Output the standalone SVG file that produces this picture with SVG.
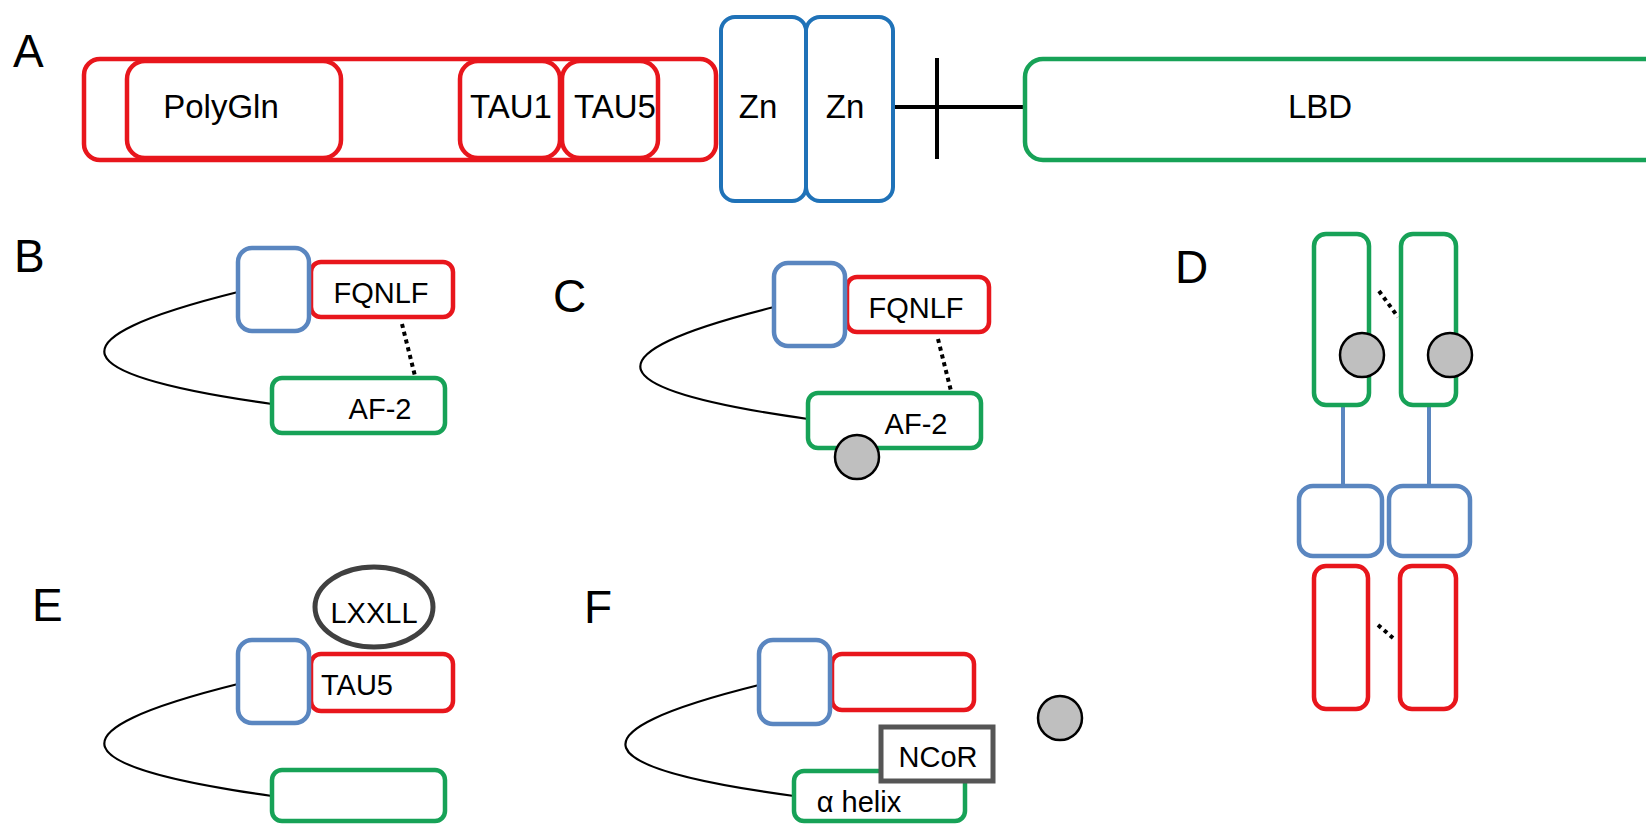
<svg xmlns="http://www.w3.org/2000/svg" width="1646" height="824" viewBox="0 0 1646 824">
  <style>
    .lbl { font-family: "Liberation Sans", Arial, sans-serif; font-size: 46px; fill: #000; }
    .t32 { font-family: "Liberation Sans", Arial, sans-serif; font-size: 33px; fill: #000; text-anchor: middle; }
    .t29 { font-family: "Liberation Sans", Arial, sans-serif; font-size: 29px; fill: #000; text-anchor: middle; }
    .red { fill: #fff; stroke: #e8161c; stroke-width: 4.5; }
    .zn { fill: #fff; stroke: #1f72b8; stroke-width: 4; }
    .blue { fill: #fff; stroke: #5a86c0; stroke-width: 4.5; }
    .green { fill: #fff; stroke: #17a257; stroke-width: 4.5; }
    .ligand { fill: #bfbfbf; stroke: #000; stroke-width: 2.5; }
    .loop { fill: none; stroke: #000; stroke-width: 2.2; }
    .dots { fill: none; stroke: #000; stroke-width: 4; stroke-dasharray: 4 4; }
    .hinge { fill: none; stroke: #5a86c0; stroke-width: 4; }
    .bar { fill: none; stroke: #000; stroke-width: 4; }
  </style>

  <!-- panel letters -->
  <g id="panel-labels">
    <text class="lbl" x="13" y="67">A</text>
    <text class="lbl" x="14" y="272">B</text>
    <text class="lbl" x="553" y="312">C</text>
    <text class="lbl" x="1175" y="283">D</text>
    <text class="lbl" x="32" y="621">E</text>
    <text class="lbl" x="584" y="623">F</text>
  </g>

  <!-- connectors -->
  <g id="connectors">
    <!-- A: hinge line with tick -->
    <line class="bar" x1="893" y1="107" x2="1025" y2="107"/>
    <line class="bar" x1="937" y1="58" x2="937" y2="159"/>
    <!-- B -->
    <path class="loop" d="M238,292 C45,340 65,375 272,404"/>
    <line class="dots" x1="402" y1="324" x2="415" y2="376"/>
    <!-- C -->
    <path class="loop" d="M774,307 C581,355 601,390 808,419"/>
    <line class="dots" x1="938" y1="339" x2="951" y2="391"/>
    <!-- D -->
    <line class="hinge" x1="1343" y1="405" x2="1343" y2="486"/>
    <line class="hinge" x1="1429" y1="405" x2="1429" y2="486"/>
    <line class="dots" x1="1379" y1="291" x2="1398" y2="317"/>
    <line class="dots" x1="1378" y1="625" x2="1393" y2="638"/>
    <!-- E -->
    <path class="loop" d="M238,684 C45,732 65,767 272,796"/>
    <!-- F -->
    <path class="loop" d="M759,685 C566,733 586,768 794,796"/>
  </g>

  <!-- A: full-length receptor -->
  <g id="a-ntd">
    <rect class="red" x="84" y="59" width="632" height="101" rx="16"/>
  </g>
  <g id="a-polygln">
    <rect class="red" x="127" y="61" width="214" height="97" rx="18"/>
    <text class="t32" x="221" y="118">PolyGln</text>
  </g>
  <g id="a-tau1">
    <rect class="red" x="460" y="61" width="100" height="97" rx="18"/>
    <text class="t32" x="511" y="118">TAU1</text>
  </g>
  <g id="a-tau5">
    <rect class="red" x="562" y="61" width="96" height="97" rx="18"/>
    <text class="t32" x="615" y="118">TAU5</text>
  </g>
  <g id="a-zn1">
    <rect class="zn" x="721" y="17" width="85" height="184" rx="14"/>
    <text class="t32" x="758" y="118">Zn</text>
  </g>
  <g id="a-zn2">
    <rect class="zn" x="806" y="17" width="87" height="184" rx="14"/>
    <text class="t32" x="845" y="118">Zn</text>
  </g>
  <g id="a-lbd">
    <rect class="green" x="1025" y="59" width="700" height="101" rx="18"/>
    <text class="t32" x="1320" y="118">LBD</text>
  </g>

  <!-- B -->
  <g id="b-fqnlf">
    <rect class="red" x="311" y="262" width="142" height="55" rx="10"/>
    <text class="t29" x="381" y="303">FQNLF</text>
  </g>
  <g id="b-dbd">
    <rect class="blue" x="238" y="248" width="71" height="83" rx="14"/>
  </g>
  <g id="b-af2">
    <rect class="green" x="272" y="378" width="173" height="55" rx="10"/>
    <text class="t29" x="380" y="419">AF-2</text>
  </g>

  <!-- C -->
  <g id="c-fqnlf">
    <rect class="red" x="847" y="277" width="142" height="55" rx="10"/>
    <text class="t29" x="916" y="318">FQNLF</text>
  </g>
  <g id="c-dbd">
    <rect class="blue" x="774" y="263" width="71" height="83" rx="14"/>
  </g>
  <g id="c-af2">
    <rect class="green" x="808" y="393" width="173" height="55" rx="10"/>
    <text class="t29" x="916" y="434">AF-2</text>
  </g>
  <g id="c-ligand">
    <circle class="ligand" cx="857" cy="457" r="22"/>
  </g>

  <!-- D: dimer -->
  <g id="d-lbd-left">
    <rect class="green" x="1314" y="234" width="55" height="171" rx="12"/>
  </g>
  <g id="d-lbd-right">
    <rect class="green" x="1401" y="234" width="55" height="171" rx="12"/>
  </g>
  <g id="d-ligand-left">
    <circle class="ligand" cx="1362" cy="355" r="22"/>
  </g>
  <g id="d-ligand-right">
    <circle class="ligand" cx="1450" cy="355" r="22"/>
  </g>
  <g id="d-dbd-left">
    <rect class="blue" x="1299" y="486" width="83" height="70" rx="14"/>
  </g>
  <g id="d-dbd-right">
    <rect class="blue" x="1389" y="486" width="81" height="70" rx="14"/>
  </g>
  <g id="d-ntd-left">
    <rect class="red" x="1314" y="566" width="54" height="143" rx="12"/>
  </g>
  <g id="d-ntd-right">
    <rect class="red" x="1400" y="566" width="56" height="143" rx="12"/>
  </g>

  <!-- E -->
  <g id="e-lxxll">
    <ellipse cx="374" cy="607" rx="59" ry="40" fill="#fff" stroke="#404040" stroke-width="5"/>
    <text class="t29" x="374" y="623">LXXLL</text>
  </g>
  <g id="e-tau5">
    <rect class="red" x="311" y="654" width="142" height="57" rx="10"/>
    <text class="t29" x="357" y="695">TAU5</text>
  </g>
  <g id="e-dbd">
    <rect class="blue" x="238" y="640" width="71" height="83" rx="14"/>
  </g>
  <g id="e-lbd">
    <rect class="green" x="272" y="770" width="173" height="51" rx="10"/>
  </g>

  <!-- F -->
  <g id="f-ntd">
    <rect class="red" x="832" y="654" width="142" height="56" rx="10"/>
  </g>
  <g id="f-dbd">
    <rect class="blue" x="759" y="640" width="71" height="84" rx="14"/>
  </g>
  <g id="f-helix">
    <rect class="green" x="794" y="771" width="171" height="50" rx="10"/>
    <text class="t29" x="859" y="812">α helix</text>
  </g>
  <g id="f-ncor">
    <rect x="881" y="727" width="112" height="54" fill="#fff" stroke="#555" stroke-width="5"/>
    <text class="t29" x="938" y="767">NCoR</text>
  </g>
  <g id="f-ligand">
    <circle class="ligand" cx="1060" cy="718" r="22"/>
  </g>
</svg>
